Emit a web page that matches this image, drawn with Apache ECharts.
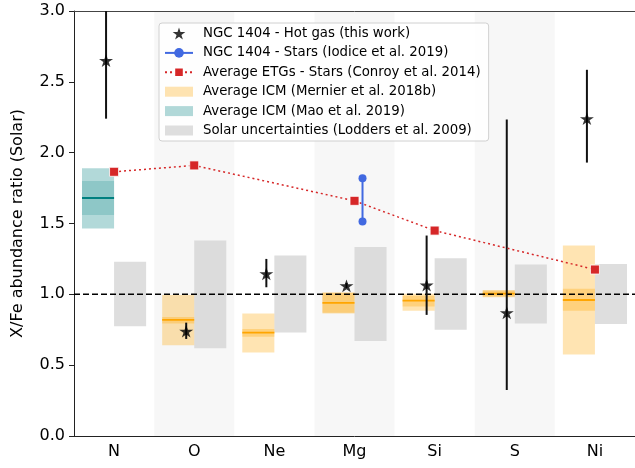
<!DOCTYPE html>
<html>
<head>
<meta charset="utf-8">
<script src="https://cdn.jsdelivr.net/npm/echarts@6/dist/echarts.min.js"></script>
<style>
  html, body { margin: 0; padding: 0; background: #fff; }
  #chart { width: 635px; height: 468px; }
</style>
</head>
<body>
<div id="chart"></div>
<script>
  const elements = ['N', 'O', 'Ne', 'Mg', 'Si', 'S', 'Ni'];

  // NGC 1404 hot gas (this work)
  const gasVal = [2.65, 0.74, 1.145, 1.06, 1.065, 0.87, 2.24];
  const gasLo  = [2.24, 0.685, 1.05, 1.045, 0.855, 0.325, 1.93];
  const gasHi  = [3.2, 0.80, 1.25, 1.08, 1.415, 2.235, 2.585];

  // NGC 1404 stars (Iodice et al. 2019), Mg only
  const iodiceIdx = 3;
  const iodiceVal = [1.515, 1.82];

  // Average ETGs stars (Conroy et al. 2014)
  const etgIdx = [0, 1, 3, 4, 6];
  const etgVal = [1.865, 1.91, 1.66, 1.45, 1.175];

  // Average ICM (Mernier et al. 2018b): O, Ne, Mg, Si, S, Ni
  const mernierIdx     = [1, 2, 3, 4, 5, 6];
  const mernierMid     = [0.82, 0.73, 0.94, 0.955, 1.005, 0.96];
  const mernierOuterLo = [0.64, 0.59, 0.865, 0.885, 0.98, 0.575];
  const mernierOuterHi = [0.995, 0.865, 1.015, 1.005, 1.03, 1.345];
  const mernierInnerLo = [0.795, 0.70, 0.87, 0.915, 0.985, 0.885];
  const mernierInnerHi = [0.84, 0.755, 1.01, 0.99, 1.025, 1.04];

  // Average ICM (Mao et al. 2019): N
  const maoIdx     = [0];
  const maoMid     = [1.68];
  const maoOuterLo = [1.465];
  const maoOuterHi = [1.89];
  const maoInnerLo = [1.56];
  const maoInnerHi = [1.80];

  // Solar uncertainties (Lodders et al. 2009)
  const solarLo = [0.775, 0.62, 0.73, 0.67, 0.75, 0.795, 0.79];
  const solarHi = [1.23, 1.38, 1.275, 1.335, 1.255, 1.21, 1.215];

  const shadedIdx = [1, 3, 5];
  const refLevel = 1.0;

  const yTicks = { min: 0, max: 3, step: 0.5 };

  const STAR = 'path://M0,-10 L2.245,-3.09 L9.511,-3.09 L3.633,1.18 L5.878,8.09 L0,3.82 L-5.878,8.09 L-3.633,1.18 L-9.511,-3.09 L-2.245,-3.09 Z';
  const PATCH = 'path://M0,0 M0,1 L28,1 L28,11 L0,11 Z M28,12';

  const ORANGE_OUT = 'rgba(255,165,0,0.3)';
  const ORANGE_IN = 'rgba(255,165,0,0.3)';
  const TEAL_OUT = 'rgba(0,128,128,0.3)';
  const TEAL_IN = 'rgba(0,128,128,0.2)';
  const GRAY = 'rgba(211,211,211,0.75)';

  function rect(api, x0, x1, lo, hi, style) {
    const a = api.coord([x0, hi]);
    const b = api.coord([x1, lo]);
    return {
      type: 'rect',
      shape: { x: a[0], y: a[1], width: b[0] - a[0], height: b[1] - a[1] },
      style: style
    };
  }

  function icmRender(outer, inner, lineColor) {
    return function (params, api) {
      const x = api.value(0);
      const children = [
        rect(api, x - 0.4, x, api.value(2), api.value(3), { fill: outer }),
        rect(api, x - 0.4, x, api.value(4), api.value(5), { fill: inner })
      ];
      const p0 = api.coord([x - 0.4, api.value(1)]);
      const p1 = api.coord([x, api.value(1)]);
      children.push({
        type: 'line',
        shape: { x1: p0[0], y1: p0[1], x2: p1[0], y2: p1[1] },
        style: { stroke: lineColor, lineWidth: 1.8 }
      });
      return { type: 'group', children: children };
    };
  }

  const chart = echarts.init(document.getElementById('chart'), null, { renderer: 'canvas' });

  const font = 'DejaVu Sans';

  chart.setOption({
    animation: false,
    backgroundColor: '#fff',
    grid: { left: 74, top: 11, right: -3, bottom: 32, containLabel: false },
    legend: {
      orient: 'vertical',
      left: 159,
      top: 23,
      padding: [4, 8, 4, 5],
      itemWidth: 28,
      itemHeight: 12,
      itemGap: 6.4,
      backgroundColor: 'rgba(255,255,255,0.85)',
      borderColor: '#d0d0d0',
      borderWidth: 1,
      borderRadius: 3,
      textStyle: { fontFamily: font, fontSize: 13.3, color: '#000', padding: [0, 0, 0, 5], lineHeight: 12 },
      data: [
        { name: 'NGC 1404 - Hot gas (this work)', icon: STAR },
        { name: 'NGC 1404 - Stars (Iodice et al. 2019)' },
        { name: 'Average ETGs - Stars (Conroy et al. 2014)' },
        { name: 'Average ICM (Mernier et al. 2018b)', icon: PATCH, itemStyle: { color: ORANGE_OUT } },
        { name: 'Average ICM (Mao et al. 2019)', icon: PATCH, itemStyle: { color: TEAL_OUT } },
        { name: 'Solar uncertainties (Lodders et al. 2009)', icon: PATCH, itemStyle: { color: GRAY } }
      ]
    },
    xAxis: [
      {
        type: 'category',
        data: elements,
        boundaryGap: true,
        position: 'bottom',
        axisLine: { onZero: false, lineStyle: { color: '#222', width: 1 } },
        axisTick: { alignWithLabel: true, length: 5, lineStyle: { color: '#222' } },
        axisLabel: { fontFamily: font, fontSize: 16, color: '#000', margin: 8 },
        splitLine: { show: false }
      },
      {
        type: 'value',
        position: 'top',
        min: -0.5,
        max: 6.5,
        axisLine: { show: true, onZero: false, lineStyle: { color: '#444', width: 1 } },
        axisTick: { show: false },
        axisLabel: { show: false },
        splitLine: { show: false }
      }
    ],
    yAxis: {
      type: 'value',
      min: yTicks.min,
      max: yTicks.max,
      interval: yTicks.step,
      name: 'X/Fe abundance ratio (Solar)',
      nameLocation: 'middle',
      nameGap: 48,
      nameTextStyle: { fontFamily: font, fontSize: 16, color: '#000' },
      axisLine: { show: true, onZero: false, lineStyle: { color: '#222', width: 1 } },
      axisTick: { show: true, length: 5, lineStyle: { color: '#222' } },
      axisLabel: { fontFamily: font, fontSize: 16, color: '#000', margin: 9,
        formatter: v => v.toFixed(1) },
      splitLine: { show: false }
    },
    series: [
      {
        name: 'bands',
        type: 'custom',
        xAxisIndex: 1,
        z: 0,
        silent: true,
        data: shadedIdx.map(i => [i, yTicks.min, yTicks.max]),
        renderItem: (params, api) => rect(api, api.value(0) - 0.5, api.value(0) + 0.5,
          api.value(1), api.value(2), { fill: 'rgba(0,0,0,0.032)' })
      },
      {
        name: 'Solar uncertainties (Lodders et al. 2009)',
        type: 'custom',
        xAxisIndex: 1,
        z: 1,
        itemStyle: { color: GRAY },
        data: elements.map((e, i) => [i, solarLo[i], solarHi[i]]),
        renderItem: (params, api) => rect(api, api.value(0), api.value(0) + 0.4,
          api.value(1), api.value(2), { fill: GRAY })
      },
      {
        name: 'Average ICM (Mernier et al. 2018b)',
        type: 'custom',
        xAxisIndex: 1,
        z: 1,
        itemStyle: { color: ORANGE_OUT },
        data: mernierIdx.map((x, k) => [x, mernierMid[k], mernierOuterLo[k], mernierOuterHi[k],
          mernierInnerLo[k], mernierInnerHi[k]]),
        renderItem: icmRender(ORANGE_OUT, ORANGE_IN, '#ffa500')
      },
      {
        name: 'Average ICM (Mao et al. 2019)',
        type: 'custom',
        xAxisIndex: 1,
        z: 1,
        itemStyle: { color: TEAL_OUT },
        data: maoIdx.map((x, k) => [x, maoMid[k], maoOuterLo[k], maoOuterHi[k],
          maoInnerLo[k], maoInnerHi[k]]),
        renderItem: icmRender(TEAL_OUT, TEAL_IN, '#008080')
      },
      {
        name: 'ref',
        type: 'line',
        xAxisIndex: 1,
        z: 2,
        silent: true,
        symbol: 'none',
        data: [[-0.5, refLevel], [6.5, refLevel]],
        lineStyle: { color: '#000', width: 1.5, type: [6, 3] }
      },
      {
        name: 'gasErr',
        type: 'custom',
        xAxisIndex: 1,
        z: 3,
        clip: true,
        silent: true,
        data: elements.map((e, i) => [i - 0.1, gasLo[i], gasHi[i]]),
        renderItem: (params, api) => {
          const a = api.coord([api.value(0), api.value(1)]);
          const b = api.coord([api.value(0), api.value(2)]);
          return {
            type: 'line',
            shape: { x1: a[0], y1: a[1], x2: b[0], y2: b[1] },
            style: { stroke: '#111', lineWidth: 2 }
          };
        }
      },
      {
        name: 'NGC 1404 - Hot gas (this work)',
        type: 'scatter',
        xAxisIndex: 1,
        z: 4,
        symbol: STAR,
        symbolSize: [14, 13.5],
        symbolKeepAspect: true,
        itemStyle: { color: '#000' },
        data: elements.map((e, i) => [i - 0.1, gasVal[i]])
      },
      {
        name: 'Average ETGs - Stars (Conroy et al. 2014)',
        type: 'line',
        xAxisIndex: 1,
        z: 5,
        symbol: 'rect',
        symbolSize: 9,
        itemStyle: { color: '#d62728', borderColor: '#fff', borderWidth: 0.8 },
        lineStyle: { color: '#d62728', width: 1.5, type: [2, 3] },
        data: etgIdx.map((x, k) => [x, etgVal[k]])
      },
      {
        name: 'NGC 1404 - Stars (Iodice et al. 2019)',
        type: 'line',
        xAxisIndex: 1,
        z: 5,
        symbol: 'circle',
        symbolSize: 8,
        showAllSymbol: true,
        itemStyle: { color: '#4169e1' },
        lineStyle: { color: '#4169e1', width: 2 },
        data: iodiceVal.map(v => [iodiceIdx + 0.1, v])
      }
    ]
  });
</script>
</body>
</html>
